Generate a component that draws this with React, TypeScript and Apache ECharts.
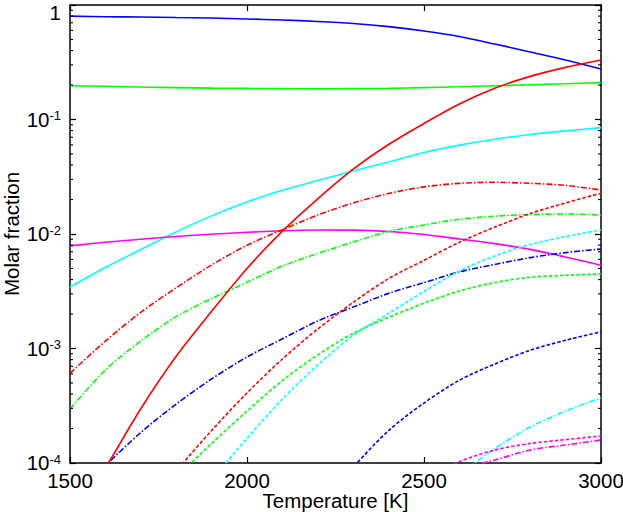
import React, { useEffect, useRef } from "react";
import * as echarts from "echarts";

// Temperature grid [K]
const temps = [1500, 1600, 1700, 1800, 1900, 2000, 2100, 2200, 2300, 2400, 2500, 2600, 2700, 2800, 2900, 3000];

// Series values (molar fractions)
const blueSolid = [0.80, 0.790, 0.786, 0.778, 0.770, 0.755, 0.740, 0.718, 0.689, 0.647, 0.593, 0.531, 0.456, 0.389, 0.331, 0.276];
const greenSolid = [0.197, 0.195, 0.192, 0.190, 0.188, 0.187, 0.186, 0.185, 0.186, 0.187, 0.190, 0.193, 0.197, 0.201, 0.205, 0.210];
const redSolid = [2.8e-5, 9.0e-5, 2.98e-4, 8.55e-4, 2.11e-3, 5.0e-3, 1.06e-2, 2.03e-2, 3.68e-2, 6.05e-2, 9.23e-2, 0.1366, 0.1875, 0.238, 0.2854, 0.331];
const cyanSolid = [3.44e-3, 5.1e-3, 7.32e-3, 1.043e-2, 1.44e-2, 1.90e-2, 2.41e-2, 2.93e-2, 3.55e-2, 4.25e-2, 5.15e-2, 5.97e-2, 6.73e-2, 7.39e-2, 7.95e-2, 8.50e-2];
const magentaSolid = [7.88e-3, 8.46e-3, 9.01e-3, 9.51e-3, 9.96e-3, 1.035e-2, 1.067e-2, 1.084e-2, 1.08e-2, 1.051e-2, 9.9e-3, 9.04e-3, 8.24e-3, 7.34e-3, 6.30e-3, 5.34e-3];
const redDashDot = [6.07e-4, 1.16e-3, 2.07e-3, 3.39e-3, 5.36e-3, 7.98e-3, 1.09e-2, 1.466e-2, 1.866e-2, 2.26e-2, 2.58e-2, 2.77e-2, 2.83e-2, 2.77e-2, 2.66e-2, 2.42e-2];
const greenDashDot = [2.96e-4, 6.49e-4, 1.163e-3, 1.90e-3, 2.73e-3, 3.79e-3, 5.25e-3, 6.76e-3, 8.51e-3, 1.051e-2, 1.199e-2, 1.344e-2, 1.43e-2, 1.483e-2, 1.495e-2, 1.466e-2];
const blueDashDot = [4.66e-5, 9.5e-5, 1.846e-4, 3.27e-4, 5.42e-4, 8.43e-4, 1.215e-3, 1.74e-3, 2.30e-3, 3.03e-3, 3.76e-3, 4.67e-3, 5.42e-3, 6.22e-3, 6.88e-3, 7.40e-3];
const redDashed = [null, null, 3.44e-5, 8.48e-5, 1.92e-4, 4.09e-4, 8.10e-4, 1.48e-3, 2.53e-3, 4.08e-3, 5.89e-3, 8.48e-3, 1.149e-2, 1.507e-2, 1.87e-2, 2.27e-2];
const greenDashed = [null, null, null, 7.43e-5, 1.48e-4, 2.84e-4, 5.25e-4, 8.81e-4, 1.355e-3, 1.873e-3, 2.49e-3, 3.18e-3, 3.77e-3, 4.19e-3, 4.36e-3, 4.48e-3];
const cyanDashed = [null, null, null, null, 7.11e-5, 1.64e-4, 3.61e-4, 7.19e-4, 1.30e-3, 2.02e-3, 3.15e-3, 4.75e-3, 6.43e-3, 8.10e-3, 9.51e-3, 1.084e-2];
const blueDashed = [null, null, null, null, null, null, null, 4.05e-5, 9.19e-5, 1.92e-4, 3.34e-4, 5.28e-4, 7.32e-4, 9.66e-4, 1.18e-3, 1.40e-3];
const cyanDashDot = [null, null, null, null, null, null, null, null, null, null, null, 7.94e-5, 1.336e-4, 2.06e-4, 2.84e-4, 3.70e-4];
const magentaDashed = [null, null, null, null, null, null, null, null, null, null, 7.24e-5, 1.028e-4, 1.30e-4, 1.48e-4, 1.60e-4, 1.72e-4];
const magentaDashDot = [null, null, null, null, null, null, null, null, null, null, null, 8.87e-5, 1.062e-4, 1.30e-4, 1.435e-4, 1.59e-4];

// Axis ranges and ticks
const xMin = 1500;
const xMax = 3000;
const xInterval = 500;
const yMin = 1e-4;
const yMax = 1;
const minorMultipliers = [2, 3, 4, 5, 6, 7, 8, 9];
const decades = [1e-4, 1e-3, 1e-2, 1e-1];

const FONT = "'Liberation Sans', Arial, Helvetica, sans-serif";
const FS = 20.5;
const SOLID = "solid";
const DASHDOT = [6, 2, 1.5, 2];
const DASHED = [3.5, 2];

const seriesDefs: { name: string; values: (number | null)[]; color: string; dash: any }[] = [
  { name: "blueSolid", values: blueSolid, color: "#0000ff", dash: SOLID },
  { name: "greenSolid", values: greenSolid, color: "#00ff00", dash: SOLID },
  { name: "cyanSolid", values: cyanSolid, color: "#00ffff", dash: SOLID },
  { name: "magentaSolid", values: magentaSolid, color: "#ff00ff", dash: SOLID },
  { name: "redDashDot", values: redDashDot, color: "#ff0000", dash: DASHDOT },
  { name: "greenDashDot", values: greenDashDot, color: "#00ff00", dash: DASHDOT },
  { name: "blueDashDot", values: blueDashDot, color: "#0000ff", dash: DASHDOT },
  { name: "redDashed", values: redDashed, color: "#ff0000", dash: DASHED },
  { name: "greenDashed", values: greenDashed, color: "#00ff00", dash: DASHED },
  { name: "cyanDashed", values: cyanDashed, color: "#00ffff", dash: DASHED },
  { name: "blueDashed", values: blueDashed, color: "#0000ff", dash: DASHED },
  { name: "cyanDashDot", values: cyanDashDot, color: "#00ffff", dash: DASHDOT },
  { name: "magentaDashed", values: magentaDashed, color: "#ff00ff", dash: DASHED },
  { name: "magentaDashDot", values: magentaDashDot, color: "#ff00ff", dash: DASHDOT },
  { name: "redSolid", values: redSolid, color: "#ff0000", dash: SOLID },
];

export default function App() {
  const ref = useRef<HTMLDivElement>(null);

  useEffect(() => {
    if (!ref.current) return;
    const chart = echarts.init(ref.current, null, { renderer: "svg" });

    const minorTicks: number[] = [];
    decades.forEach((d) => minorMultipliers.forEach((m) => minorTicks.push(m * d)));

    const axisLine = { show: true, onZero: false, lineStyle: { color: "#000", width: 1.5 } };
    const axisTick = { show: true, inside: true, length: 6, lineStyle: { color: "#000", width: 1.2 } };

    const lineSeries = seriesDefs.map((s) => ({
      name: s.name,
      type: "line",
      xAxisIndex: 0,
      yAxisIndex: 0,
      data: temps
        .map((t, i) => [t, s.values[i]])
        .filter((p) => p[1] !== null),
      showSymbol: false,
      symbol: "none",
      smooth: 0.3,
      clip: true,
      lineStyle: { color: s.color, width: 1.6, type: s.dash },
      z: 3,
    }));

    const minorTickSeries = {
      type: "custom",
      xAxisIndex: 0,
      yAxisIndex: 0,
      silent: true,
      clip: false,
      z: 5,
      data: minorTicks.map((v) => [xMin, v]),
      encode: { x: 0, y: 1 },
      renderItem: (params: any, api: any) => {
        const v = api.value(1);
        const pL = api.coord([xMin, v]);
        const pR = api.coord([xMax, v]);
        const st = { stroke: "#000", lineWidth: 1.1 };
        return {
          type: "group",
          children: [
            { type: "line", shape: { x1: pL[0], y1: pL[1], x2: pL[0] + 3, y2: pL[1] }, style: st },
            { type: "line", shape: { x1: pR[0] - 3, y1: pR[1], x2: pR[0], y2: pR[1] }, style: st },
          ],
        };
      },
    };

    chart.setOption({
      animation: false,
      backgroundColor: "#ffffff",
      grid: { left: 70, right: 22, top: 5, bottom: 49, containLabel: false, outerBoundsMode: "none" },
      xAxis: [
        {
          type: "value",
          position: "bottom",
          min: xMin,
          max: xMax,
          interval: xInterval,
          axisLine,
          axisTick,
          splitLine: { show: false },
          axisLabel: {
            color: "#000",
            fontSize: FS,
            lineHeight: 12,
            fontFamily: FONT,
            margin: 11,
            formatter: (v: number) => String(v),
          },
          name: "Temperature [K]",
          nameLocation: "middle",
          nameGap: 28,
          nameMoveOverlap: false,
          nameTextStyle: { color: "#000", fontSize: FS, lineHeight: 18, fontFamily: FONT },
        },
        {
          type: "value",
          position: "top",
          min: xMin,
          max: xMax,
          interval: xInterval,
          axisLine,
          axisTick,
          splitLine: { show: false },
          axisLabel: { show: false },
        },
      ],
      yAxis: [
        {
          type: "log",
          logBase: 10,
          position: "left",
          min: yMin,
          max: yMax,
          splitNumber: 4,
          axisLine,
          axisTick,
          splitLine: { show: false },
          axisLabel: {
            margin: 9,
            verticalAlignMaxLabel: "top",
            formatter: (v: number) => {
              const e = Math.round(Math.log10(v));
              return e === 0 ? "{one|1}" : `{base|10}{sup|${e}}`;
            },
            rich: {
              base: { fontSize: FS, lineHeight: FS, fontFamily: FONT, color: "#000", verticalAlign: "bottom" },
              sup: { fontSize: 13, lineHeight: 10, fontFamily: FONT, color: "#000", verticalAlign: "top" },
              one: { fontSize: FS, lineHeight: 14, fontFamily: FONT, color: "#000" },
            },
          },
          name: "Molar fraction",
          nameLocation: "middle",
          nameGap: 51,
          nameMoveOverlap: false,
          nameTextStyle: { color: "#000", fontSize: FS, lineHeight: 16, fontFamily: FONT },
        },
        {
          type: "log",
          logBase: 10,
          position: "right",
          min: yMin,
          max: yMax,
          splitNumber: 4,
          axisLine,
          axisTick,
          splitLine: { show: false },
          axisLabel: { show: false },
        },
      ],
      series: [...lineSeries, minorTickSeries],
    });

    return () => chart.dispose();
  }, []);

  return (
    <div
      ref={ref}
      style={{ position: "absolute", left: 0, top: 0, width: 623, height: 512, background: "#fff" }}
    />
  );
}
